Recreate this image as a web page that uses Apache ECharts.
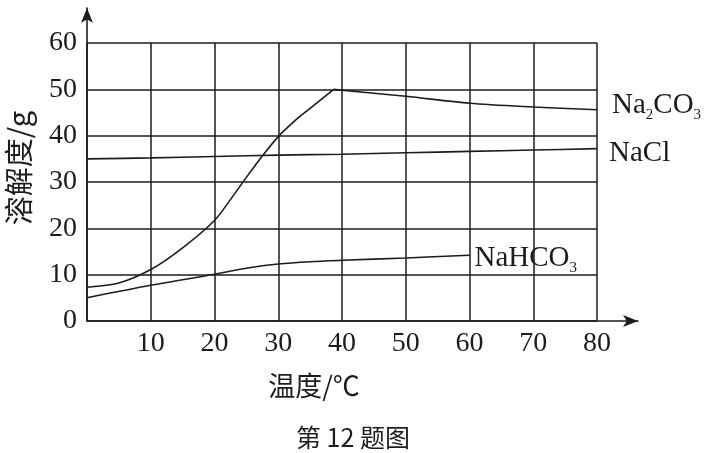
<!DOCTYPE html>
<html>
<head>
<meta charset="utf-8">
<script src="https://cdn.jsdelivr.net/npm/echarts@6/dist/echarts.min.js"></script>
<style>
html,body{margin:0;padding:0;background:#fff;}
#main{width:706px;height:453px;}
</style>
</head>
<body>
<div id="main"></div>
<script>
// ---- data ----
const xTickLabels = [10, 20, 30, 40, 50, 60, 70, 80];
const yTickLabels = [0, 10, 20, 30, 40, 50, 60];

const na2co3RiseT = [0, 5, 10, 15, 20, 22.5, 25, 27.5, 30, 32.5, 35, 38.7];
const na2co3RiseS = [7.3, 8.2, 11.1, 15.8, 21.7, 26.2, 31, 35.6, 39.8, 43.1, 45.9, 50];
const na2co3FallT = [38.7, 40, 50, 60, 70, 80];
const na2co3FallS = [50, 49.8, 48.5, 47, 46.2, 45.6];

const naclT = [0, 10, 20, 30, 40, 50, 60, 70, 80];
const naclS = [35, 35.2, 35.5, 35.8, 36, 36.3, 36.6, 36.9, 37.2];

const nahco3T = [0, 10, 20, 25, 30, 35, 40, 50, 60];
const nahco3S = [5, 7.7, 10.1, 11.4, 12.3, 12.8, 13.1, 13.6, 14.2];

const yName = '溶解度/g';
const xName = '温度/℃';
const caption = '第 12 题图';

// ---- build ----
const zip = (a, b) => a.map((v, i) => [v, b[i]]);
const ink = '#1c1c1c';
const serif = 'Liberation Serif, Noto Sans CJK SC, serif';
const cjk = 'Noto Sans CJK SC, Liberation Serif, sans-serif';

const lineStyle = { color: ink, width: 1.6 };
const labelRich = {
  n: { fontSize: 29, fontFamily: serif, color: ink, lineHeight: 34 },
  s: { fontSize: 15, fontFamily: serif, color: ink, lineHeight: 14, verticalAlign: 'bottom' }
};

const chart = echarts.init(document.getElementById('main'), null, { renderer: 'canvas' });
chart.setOption({
  animation: false,
  backgroundColor: '#fff',
  grid: [
    { left: 87, right: 109, top: 43, bottom: 132 },
    { left: 87, right: 68, top: 8, bottom: 132 }
  ],
  xAxis: [
    {
      type: 'value', gridIndex: 0, min: 0, max: 80, interval: 10,
      axisLine: { show: false }, axisTick: { show: false },
      splitLine: { show: true, lineStyle: { color: ink, width: 1.5 } },
      axisLabel: {
        margin: 9, fontSize: 28, fontFamily: serif, color: ink,
        formatter: v => (xTickLabels.indexOf(v) >= 0 ? String(v) : '')
      }
    },
    {
      type: 'value', gridIndex: 1, min: 0, max: 1,
      axisLine: { show: true, onZero: false, symbol: ['none', 'arrow'], symbolSize: [9, 15], lineStyle: { color: ink, width: 1.6 } },
      axisTick: { show: false }, axisLabel: { show: false }, splitLine: { show: false }
    }
  ],
  yAxis: [
    {
      type: 'value', gridIndex: 0, min: 0, max: 60, interval: 10,
      axisLine: { show: false }, axisTick: { show: false },
      splitLine: { show: true, lineStyle: { color: ink, width: 1.5 } },
      axisLabel: {
        margin: 10, fontSize: 28, fontFamily: serif, color: ink,
        formatter: v => (yTickLabels.indexOf(v) >= 0 ? String(v) : '')
      }
    },
    {
      type: 'value', gridIndex: 1, min: 0, max: 1,
      axisLine: { show: true, onZero: false, symbol: ['none', 'arrow'], symbolSize: [9, 15], lineStyle: { color: ink, width: 1.6 } },
      axisTick: { show: false }, axisLabel: { show: false }, splitLine: { show: false }
    }
  ],
  series: [
    {
      name: 'Na2CO3', type: 'line', xAxisIndex: 0, yAxisIndex: 0,
      data: zip(na2co3RiseT, na2co3RiseS), smooth: 0.3, showSymbol: false, symbol: 'none',
      lineStyle: lineStyle, silent: true
    },
    {
      name: 'Na2CO3', type: 'line', xAxisIndex: 0, yAxisIndex: 0,
      data: zip(na2co3FallT, na2co3FallS), smooth: 0.3, showSymbol: false, symbol: 'none',
      lineStyle: lineStyle, silent: true,
      endLabel: {
        show: true, position: 'right', distance: 15, offset: [0, -4],
        formatter: '{n|Na}{s|2}{n|CO}{s|3}', rich: labelRich
      }
    },
    {
      name: 'NaCl', type: 'line', xAxisIndex: 0, yAxisIndex: 0,
      data: zip(naclT, naclS), smooth: 0.3, showSymbol: false, symbol: 'none',
      lineStyle: lineStyle, silent: true,
      endLabel: {
        show: true, position: 'right', distance: 12, offset: [0, 5],
        formatter: '{n|NaCl}', rich: labelRich
      }
    },
    {
      name: 'NaHCO3', type: 'line', xAxisIndex: 0, yAxisIndex: 0,
      data: zip(nahco3T, nahco3S), smooth: 0.3, showSymbol: false, symbol: 'none',
      lineStyle: lineStyle, silent: true,
      endLabel: {
        show: true, position: 'right', distance: 5, offset: [0, 3],
        formatter: '{n|NaHCO}{s|3}', rich: labelRich
      }
    }
  ],
  graphic: [
    {
      type: 'text', x: 19, y: 168, rotation: Math.PI / 2,
      style: { text: yName, font: '29px ' + cjk, fill: ink, align: 'center', verticalAlign: 'middle' }
    },
    {
      type: 'text', x: 314, y: 386,
      style: { text: xName, font: '27px ' + cjk, fill: ink, align: 'center', verticalAlign: 'middle' }
    },
    {
      type: 'text', x: 353, y: 437,
      style: { text: caption, font: '25px ' + cjk, fill: ink, align: 'center', verticalAlign: 'middle' }
    }
  ]
});
</script>
</body>
</html>
